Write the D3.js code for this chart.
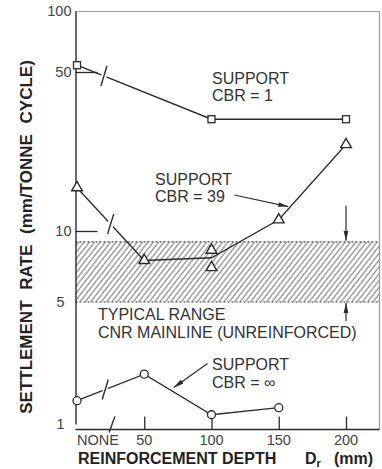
<!DOCTYPE html>
<html><head><meta charset="utf-8">
<script src="https://cdn.jsdelivr.net/npm/d3@7"></script>
<style>
html,body{margin:0;padding:0;background:#fff;}
svg{display:block;font-family:"Liberation Sans",Arial,Helvetica,sans-serif;}
</style></head><body>
<svg id="chart" width="382" height="469"></svg>
<script>
// Reinforcement depth ticks (mm) and settlement-rate ticks (mm/tonne cycle)
const depthTicks = [50, 100, 150, 200];
const depthTickLabels = ["50", "100", "150", "200"];
const rateTicks = [1, 5, 10, 50, 100];
const rateTickLabels = ["1", "5", "10", "50", "100"];
const rateInnerTicks = [10, 50];

// Support CBR = 1 (squares)
const cbr1Depth = [0, 100, 200];
const cbr1Rate = [54, 31, 31];

// Support CBR = 39 (triangles) -- two tests at 100 mm
const cbr39Depth = [0, 50, 100, 100, 150, 200];
const cbr39Rate = [15.5, 7.5, 8.3, 7.0, 11.2, 24];
const cbr39LineDepth = [0, 50, 100, 150, 200];
const cbr39LineRate = [15.5, 7.5, 7.7, 11.2, 24];

// Support CBR = infinity (circles)
const cbrInfDepth = [0, 50, 100, 150];
const cbrInfRate = [1.36, 1.93, 1.13, 1.24];

// Typical range, CNR mainline (unreinforced)
const typicalRange = [5, 9];

const ink = "#2b2b2b";
const svg = d3.select("#chart");
const L = 75.5, R = 379.5, T = 11.5, B = 429.5;

const x = d3.scaleLinear().domain([0, 200]).range([77, 346]);
const y = d3.scaleLog().domain([1, 5, 10, 50, 100]).range([424, 302, 231, 72, 11]);

const defs = svg.append("defs");
const pat = defs.append("pattern")
  .attr("id", "hatch").attr("patternUnits", "userSpaceOnUse")
  .attr("width", 4.2).attr("height", 10)
  .attr("patternTransform", "rotate(38)");
pat.append("line").attr("x1", 1).attr("x2", 1).attr("y1", 0).attr("y2", 10)
  .attr("stroke", "#7e7e7e").attr("stroke-width", 1.1);

defs.append("marker").attr("id", "head")
  .attr("viewBox", "0 0 10 6").attr("refX", 10).attr("refY", 3)
  .attr("markerWidth", 10).attr("markerHeight", 6).attr("markerUnits", "userSpaceOnUse")
  .attr("orient", "auto")
  .append("path").attr("d", "M0,0.6 L10,3 L0,5.4 Z").attr("fill", ink);

// Typical range band
svg.append("rect")
  .attr("x", L).attr("y", y(typicalRange[1]))
  .attr("width", R - L).attr("height", y(typicalRange[0]) - y(typicalRange[1]))
  .attr("fill", "url(#hatch)");
typicalRange.forEach(v => {
  svg.append("line").attr("x1", L).attr("x2", R).attr("y1", y(v)).attr("y2", y(v))
    .attr("stroke", "#7a7a7a").attr("stroke-width", 1.7).attr("stroke-dasharray", "2,2");
});

// Frame: light top/right edges, dark axes
svg.append("path").attr("d", `M${L},${T}H${R}V${B}`).attr("fill", "none")
  .attr("stroke", "#9a9a9a").attr("stroke-width", 1.2);

// Y axis
const yAxis = d3.axisLeft(y).tickValues(rateTicks).tickSize(0).tickPadding(4)
  .tickFormat((d, i) => rateTickLabels[i]);
const gy = svg.append("g").attr("transform", `translate(${L},0)`).call(yAxis);
gy.select(".domain").attr("stroke", ink).attr("stroke-width", 1.4);
gy.selectAll("text").attr("font-size", 14.5).attr("fill", "#444")
  .attr("font-family", "Liberation Sans, Arial, sans-serif")
  .attr("dx", d => d < 10 ? -7 : 0);
const yInner = d3.axisRight(y).tickValues(rateInnerTicks).tickSize(22).tickFormat("");
const gyi = svg.append("g").attr("transform", `translate(${L},0)`).call(yInner);
gyi.select(".domain").remove();
gyi.selectAll("line").attr("stroke", ink).attr("stroke-width", 1.3);

// X axis
const xAxis = d3.axisTop(x).tickValues(depthTicks).tickSize(13).tickFormat("");
const gx = svg.append("g").attr("transform", `translate(0,${B})`).call(xAxis);
gx.select(".domain").attr("d", `M${L},0H${R}`).attr("stroke", ink).attr("stroke-width", 1.4);
gx.selectAll("line").attr("stroke", ink).attr("stroke-width", 1.3);
svg.append("g").selectAll("text").data(depthTicks).join("text")
  .attr("x", d => x(d)).attr("y", 445).attr("text-anchor", "middle")
  .attr("font-size", 14.5).attr("fill", "#444")
  .text((d, i) => depthTickLabels[i]);
svg.append("text").attr("x", x(0)).attr("y", 445).attr("font-size", 14.5).attr("fill", "#444")
  .text("NONE");

// Scale-break symbol
function bolt(bx, by, h) {
  return `M${bx - 3},${by + h} L${bx - 0.5},${by + 1.5} L${bx + 0.5},${by - 1.5} L${bx + 3},${by - h}`;
}
const axBreak = x(26);
svg.append("path").attr("d", bolt(axBreak, B - 5, 8)).attr("fill", "none")
  .attr("stroke", ink).attr("stroke-width", 1.4);

// Series lines
const line = d3.line().x(d => x(d[0])).y(d => y(d[1]));
const zip = (a, b) => a.map((v, i) => [v, b[i]]);
const seriesLines = [zip(cbr1Depth, cbr1Rate), zip(cbr39LineDepth, cbr39LineRate), zip(cbrInfDepth, cbrInfRate)];
const breakDepth = [20, 25, 21];
seriesLines.forEach((pts, k) => {
  svg.append("path").attr("d", line(pts)).attr("fill", "none")
    .attr("stroke", ink).attr("stroke-width", 1.3);
  // scale break on the first segment
  const p0 = [x(pts[0][0]), y(pts[0][1])], p1 = [x(pts[1][0]), y(pts[1][1])];
  const slope = (p1[1] - p0[1]) / (p1[0] - p0[0]);
  const bx = x(breakDepth[k]);
  const by = p0[1] + (bx - p0[0]) * slope;
  svg.append("line").attr("x1", bx - 2.5).attr("x2", bx + 2.5)
    .attr("y1", by - 2.5 * slope).attr("y2", by + 2.5 * slope)
    .attr("stroke", "#fff").attr("stroke-width", 3);
  svg.append("path").attr("d", bolt(bx, by, 10)).attr("fill", "none")
    .attr("stroke", ink).attr("stroke-width", 1.4);
});

// Markers
svg.append("g").selectAll("rect").data(zip(cbr1Depth, cbr1Rate)).join("rect")
  .attr("x", d => x(d[0]) - 3.5).attr("y", d => y(d[1]) - 3.5)
  .attr("width", 7).attr("height", 7)
  .attr("fill", "#fff").attr("stroke", ink).attr("stroke-width", 1.3);
svg.append("g").selectAll("path").data(zip(cbr39Depth, cbr39Rate)).join("path")
  .attr("transform", d => `translate(${x(d[0])},${y(d[1])})`)
  .attr("d", d3.symbol(d3.symbolTriangle, 50))
  .attr("fill", "#fff").attr("stroke", ink).attr("stroke-width", 1.4);
svg.append("g").selectAll("circle").data(zip(cbrInfDepth, cbrInfRate)).join("circle")
  .attr("cx", d => x(d[0])).attr("cy", d => y(d[1])).attr("r", 4)
  .attr("fill", "#fff").attr("stroke", ink).attr("stroke-width", 1.3);

// Labels
const labelFont = 16;
function label(lines, lx, ly, gap) {
  const t = svg.append("text").attr("font-size", labelFont).attr("fill", "#333");
  lines.forEach((s, i) => t.append("tspan").attr("x", lx).attr("y", ly + i * gap).text(s));
}
label(["SUPPORT", "CBR = 1"], 212, 84, 17);
label(["SUPPORT", "CBR = 39"], 155, 185, 17);
label(["TYPICAL RANGE", "CNR MAINLINE (UNREINFORCED)"], 98, 320, 18);
label(["SUPPORT", "CBR = \u221E"], 212, 370, 18);

// Pointer arrows
function arrow(x1, y1, x2, y2) {
  svg.append("line").attr("x1", x1).attr("y1", y1).attr("x2", x2).attr("y2", y2)
    .attr("stroke", ink).attr("stroke-width", 1.2).attr("marker-end", "url(#head)");
}
arrow(x(117), y(14.4), x(157), y(12.8));
arrow(x(97), y(2.22), x(72), y(1.62));
arrow(x(200), y(typicalRange[1]) - 36, x(200), y(typicalRange[1]) - 1);
arrow(x(200), y(typicalRange[0]) + 19, x(200), y(typicalRange[0]) + 1);

// Axis titles
svg.append("text").attr("transform", "translate(32,237) rotate(-90)")
  .attr("text-anchor", "middle").attr("font-size", 17).attr("font-weight", "bold")
  .attr("word-spacing", 6).attr("fill", "#222")
  .text("SETTLEMENT RATE (mm/TONNE CYCLE)");
const xt = svg.append("text").attr("x", 78).attr("y", 464)
  .attr("font-size", 16).attr("font-weight", "bold").attr("fill", "#222");
xt.append("tspan").text("REINFORCEMENT DEPTH");
xt.append("tspan").attr("x", 305).text("D");
xt.append("tspan").attr("dy", 3).attr("font-size", 11).text("r");
xt.append("tspan").attr("x", 334).attr("dy", -3).text("(mm)");
</script>
</body></html>
